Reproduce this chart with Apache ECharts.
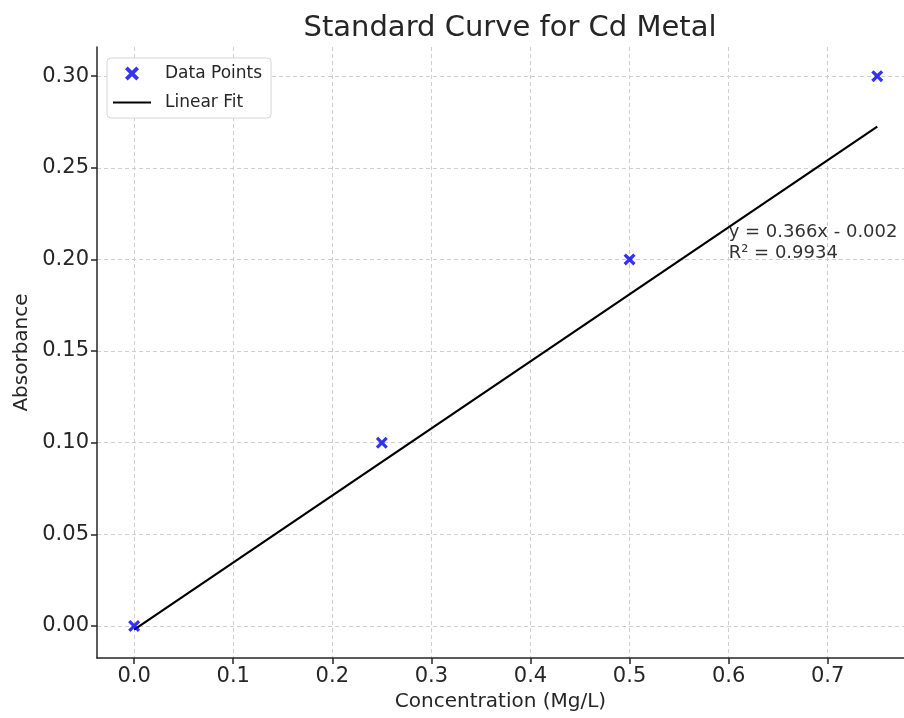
<!DOCTYPE html>
<html>
<head>
<meta charset="utf-8">
<script src="https://cdn.jsdelivr.net/npm/echarts@6/dist/echarts.min.js"></script>
<style>
  html, body { margin: 0; padding: 0; background: #fff; }
  #chart { width: 904px; height: 718px; }
</style>
</head>
<body>
<div id="chart"></div>
<script>
// measured points
const concentration = [0, 0.25, 0.5, 0.75];
const absorbance = [0, 0.1, 0.2, 0.3];
// fitted line end points
const fitX = [0, 0.75];
const fitY = [-0.002, 0.2725];
const xTicks = [0, 0.1, 0.2, 0.3, 0.4, 0.5, 0.6, 0.7];
const yTicks = [0, 0.05, 0.1, 0.15, 0.2, 0.25, 0.3];
const fitText = ['y = 0.366x - 0.002', 'R² = 0.9934'];
const fitTextAt = [0.6, 0.2];

const xMark = 'path://M0,1.9 L1.9,0 L5,3.1 L8.1,0 L10,1.9 L6.9,5 L10,8.1 L8.1,10 L5,6.9 L1.9,10 L0,8.1 L3.1,5 Z';
const font = 'DejaVu Sans';
const ink = '#262626';
const blue = '#0000ee';

const chart = echarts.init(document.getElementById('chart'));

const axisBase = {
  type: 'value',
  nameLocation: 'middle',
  nameTextStyle: { fontFamily: font, fontSize: 20, color: ink },
  axisLine: { show: true, onZero: false, lineStyle: { color: ink, width: 1.5 } },
  axisTick: { show: true, inside: false, length: 6, lineStyle: { color: ink, width: 1.5 } },
  splitLine: { show: true, lineStyle: { color: '#cfcfcf', type: [4, 3], width: 1 } },
  axisLabel: { fontFamily: font, fontSize: 21, color: ink, margin: 8 }
};

chart.setOption({
  animation: false,
  backgroundColor: '#fff',
  title: {
    text: 'Standard Curve for Cd Metal',
    left: 505, top: 9, textAlign: 'center',
    textStyle: { fontFamily: font, fontSize: 29, fontWeight: 'normal', color: ink }
  },
  grid: { left: 97, top: 47, right: 0, bottom: 60, containLabel: false },
  legend: {
    left: 107, top: 58,
    orient: 'vertical',
    backgroundColor: '#fff',
    borderColor: '#d6d6d6', borderWidth: 1, borderRadius: 4,
    padding: [7, 9, 7, 6],
    itemWidth: 38, itemHeight: 14, itemGap: 12,
    textStyle: { fontFamily: font, fontSize: 17, color: ink, padding: [0, 0, 0, 9] },
    data: [
      { name: 'Data Points', icon: xMark, itemStyle: { color: blue } },
      { name: 'Linear Fit', icon: 'path://M0,0 L38,0 L38,2.2 L0,2.2 Z' }
    ]
  },
  xAxis: Object.assign({}, axisBase, {
    name: 'Concentration (Mg/L)', nameGap: 33,
    min: -0.0375, max: 0.777,
    axisTick: Object.assign({}, axisBase.axisTick, { customValues: xTicks }),
    axisLabel: Object.assign({}, axisBase.axisLabel, { customValues: xTicks,
      formatter: v => v.toFixed(1) })
  }),
  yAxis: Object.assign({}, axisBase, {
    name: 'Absorbance', nameGap: 62,
    min: -0.0175, max: 0.3159,
    axisTick: Object.assign({}, axisBase.axisTick, { customValues: yTicks }),
    axisLabel: Object.assign({}, axisBase.axisLabel, { customValues: yTicks,
      formatter: v => v.toFixed(2) })
  }),
  series: [
    {
      name: 'Data Points',
      type: 'scatter',
      symbol: xMark,
      symbolSize: 12,
      itemStyle: { color: blue },
      z: 3,
      data: concentration.map((x, i) => [x, absorbance[i]])
    },
    {
      name: 'Linear Fit',
      type: 'line',
      symbol: 'none',
      lineStyle: { color: '#000', width: 2.2 },
      itemStyle: { color: '#000' },
      z: 2,
      data: fitX.map((x, i) => [x, fitY[i]])
    }
  ]
});

const p = chart.convertToPixel({ gridIndex: 0 }, fitTextAt);
chart.setOption({
  graphic: [{
    type: 'text',
    left: p[0], top: p[1] - 38,
    z: 10,
    style: {
      text: fitText.join('\n'),
      font: '18px "DejaVu Sans"',
      fill: '#333',
      lineHeight: 21
    }
  }]
});
</script>
</body>
</html>
